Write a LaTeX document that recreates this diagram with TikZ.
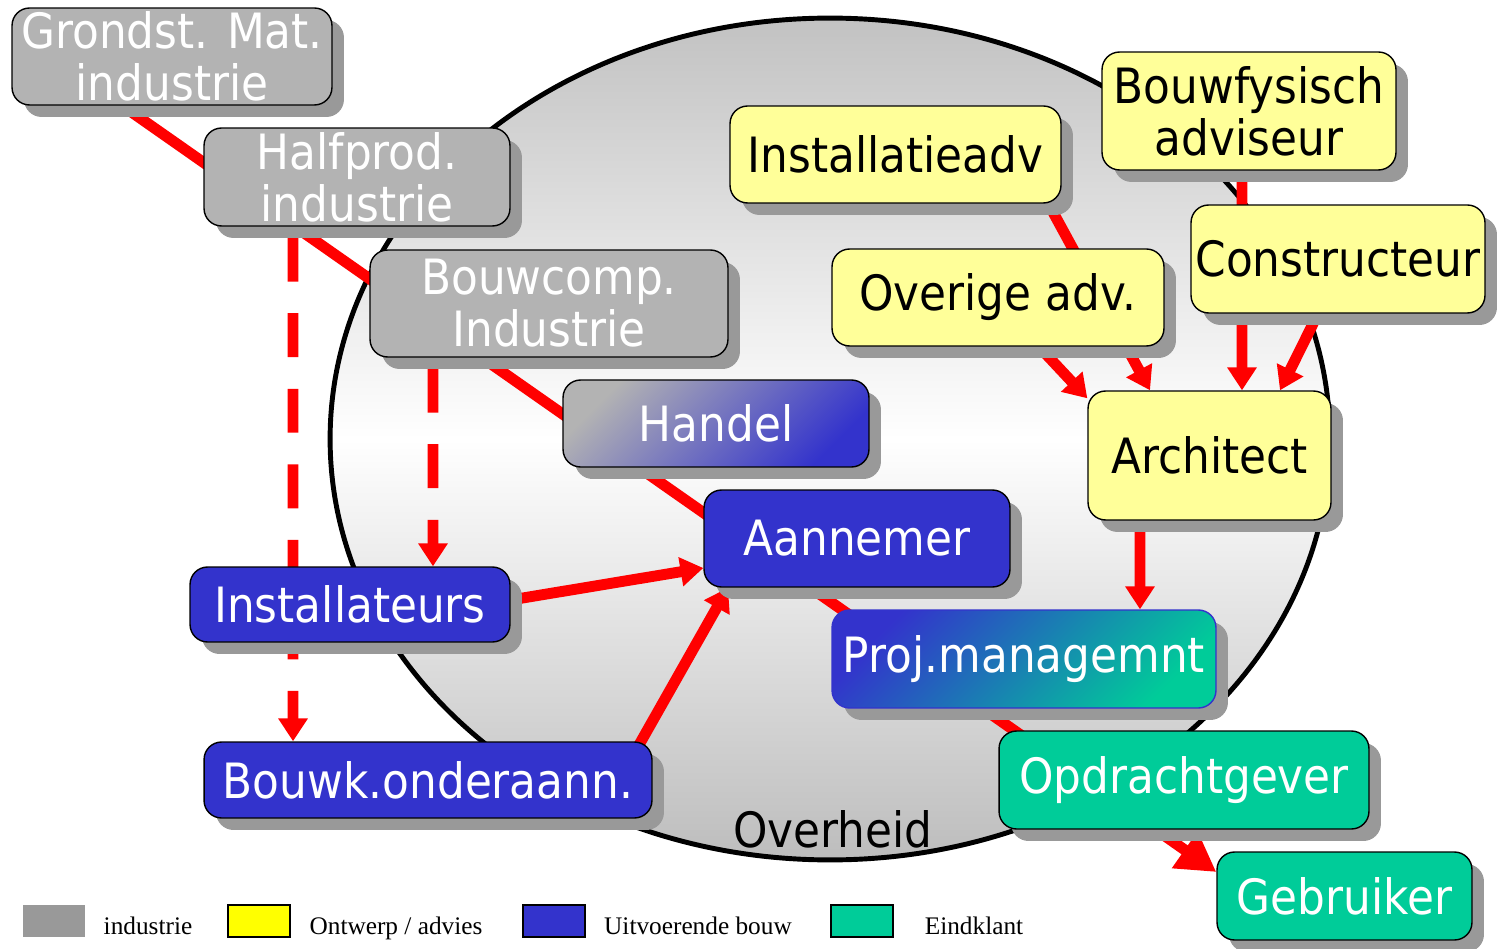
\documentclass[tikz,border=0pt]{standalone}
\usepackage{fontspec}
\setmainfont{DejaVu Sans}[FakeStretch=0.9]
\newfontfamily\legendfont{Liberation Serif}
\usetikzlibrary{arrows.meta,shadows,calc}
\pgfdeclarelayer{bg}
\pgfdeclarelayer{edges}
\pgfsetlayers{bg,edges,main}
\definecolor{boxgray}{HTML}{B3B3B3}
\definecolor{shadowgray}{HTML}{999999}
\definecolor{advyellow}{HTML}{FFFF99}
\definecolor{bouwblue}{HTML}{3333CC}
\definecolor{klantteal}{HTML}{00CC99}
\definecolor{legyellow}{HTML}{FFFF00}
\definecolor{arrowred}{HTML}{FF0000}
\tikzset{
  box/.style={rounded corners=10pt, draw=black, line width=0.8pt, align=center,
    inner sep=0pt, font=\fontsize{27.7}{29.5}\selectfont,
    drop shadow={shadow xshift=0.24cm, shadow yshift=-0.24cm, opacity=1, fill=shadowgray}},
  graybox/.style={box, fill=boxgray, text=white},
  yelbox/.style={box, fill=advyellow, text=black},
  bluebox/.style={box, fill=bouwblue, text=white},
  tealbox/.style={box, fill=klantteal, text=white},
  handelbox/.style={box, top color=boxgray, bottom color=bouwblue, shading angle=45, text=white},
  projbox/.style={box, draw=bouwblue, top color=bouwblue, bottom color=klantteal, shading angle=45, text=white},
  redline/.style={draw=arrowred, line width=6.2pt},
  redarrow/.style={redline, -{Triangle[length=13pt,width=16pt]}},
  dasharrow/.style={redarrow, dash pattern=on 25pt off 18pt},
  legsq/.style={minimum width=1.24cm, minimum height=0.64cm, inner sep=0pt},
  legtext/.style={font=\legendfont\fontsize{14.4}{16}\selectfont, text=black, inner sep=0pt}
}
\begin{document}
\begin{tikzpicture}[x=0.02cm,y=-0.02cm]
\useasboundingbox (0,0) rectangle (1497,949);

\begin{pgfonlayer}{bg}
  \draw[line width=2.8pt, top color=black!24, bottom color=black!26, middle color=white]
    (830,439) ellipse [x radius=10cm, y radius=8.42cm];
\end{pgfonlayer}

% industry chain
\node[graybox, minimum width=6.4cm, minimum height=1.94cm] (g) at (172,56.5) {Grondst. Mat.\\industrie};
\node[graybox, minimum width=6.12cm, minimum height=1.96cm] (h) at (357,177) {Halfprod.\\industrie};
\node[graybox, minimum width=7.16cm, minimum height=2.14cm] (b) at (549,303.5) {Bouwcomp.\\Industrie};
\node[handelbox, minimum width=6.12cm, minimum height=1.74cm] (ha) at (716,423.5) {Handel};
\node[bluebox, minimum width=6.12cm, minimum height=1.94cm] (a) at (857,538.5) {Aannemer};
\node[bluebox, minimum width=6.4cm, minimum height=1.5cm] (inst) at (350,604.5) {Installateurs};
\node[bluebox, minimum width=8.96cm, minimum height=1.52cm] (bo) at (428,780) {Bouwk.onderaann.};
\node[projbox, minimum width=7.68cm, minimum height=1.96cm] (p) at (1024,659) {Proj.managemnt};
\node[tealbox, minimum width=7.4cm, minimum height=1.96cm] (o) at (1184,780) {Opdrachtgever};
\node[tealbox, minimum width=5.1cm, minimum height=1.76cm] (geb) at (1344.5,896) {Gebruiker};

% advisers
\node[yelbox, minimum width=6.62cm, minimum height=1.94cm] (ia) at (895.5,154.5) {Installatieadv};
\node[yelbox, minimum width=5.88cm, minimum height=2.36cm] (bf) at (1249,111) {Bouwfysisch\\adviseur};
\node[yelbox, minimum width=6.64cm, minimum height=1.94cm] (ov) at (998,297.5) {Overige adv.};
\node[yelbox, minimum width=5.88cm, minimum height=2.16cm] (c) at (1338,259) {Constructeur};
\node[yelbox, minimum width=4.86cm, minimum height=2.58cm] (ar) at (1209.5,455.5) {Architect};

\node[font=\fontsize{27.7}{29.5}\selectfont, text=black, inner sep=0pt] (ovh) at (833,829) {Overheid};

% legend
\node[legsq, fill=shadowgray] (l1) at (54,921) {};
\node[legsq, fill=legyellow, draw=black, line width=1pt] (l2) at (259,921) {};
\node[legsq, fill=bouwblue, draw=black, line width=1pt] (l3) at (554,921) {};
\node[legsq, fill=klantteal, draw=black, line width=1pt] (l4) at (862,921) {};
\node[legtext] (t1) at (148,926) {industrie};
\node[legtext] (t2) at (396,928) {Ontwerp / advies};
\node[legtext] (t3) at (698,926) {Uitvoerende bouw};
\node[legtext] (t4) at (974,926) {Eindklant};

\begin{pgfonlayer}{edges}
  \draw[redline, -{Triangle[length=22pt,width=24pt]}]
    ([xshift=-1.44cm,yshift=-0.67cm]g.center) -- ([yshift=0.48cm]geb.west);
  \draw[dasharrow] ([xshift=-1.28cm,yshift=-0.22cm]h.south) -- ([xshift=-2.7cm]bo.north);
  \draw[dasharrow] ([xshift=-2.32cm,yshift=-0.22cm]b.south) -- ([xshift=1.66cm]inst.north);
  \draw[redarrow] ([yshift=0.09cm]inst.east) -- ([yshift=-0.59cm]a.west);
  \draw[redarrow] ([xshift=-0.3cm,yshift=-0.12cm]bo.north east) -- ([xshift=-2.58cm]a.south);
  \draw[redarrow] ([xshift=-0.32cm,yshift=0.1cm]ia.south east) -- ([xshift=-1.19cm]ar.north);
  \draw[redarrow] ([xshift=0.82cm]ov.south) -- ([yshift=-0.16cm]ar.north west);
  \draw[redarrow] ([xshift=-0.14cm]bf.south) -- ([xshift=0.65cm]ar.north);
  \draw[redarrow] ([xshift=-0.4cm]c.south) -- ([xshift=1.41cm]ar.north);
  \draw[redarrow] ([xshift=-1.39cm]ar.south) -- ([xshift=2.32cm]p.north);
\end{pgfonlayer}
\end{tikzpicture}
\end{document}
